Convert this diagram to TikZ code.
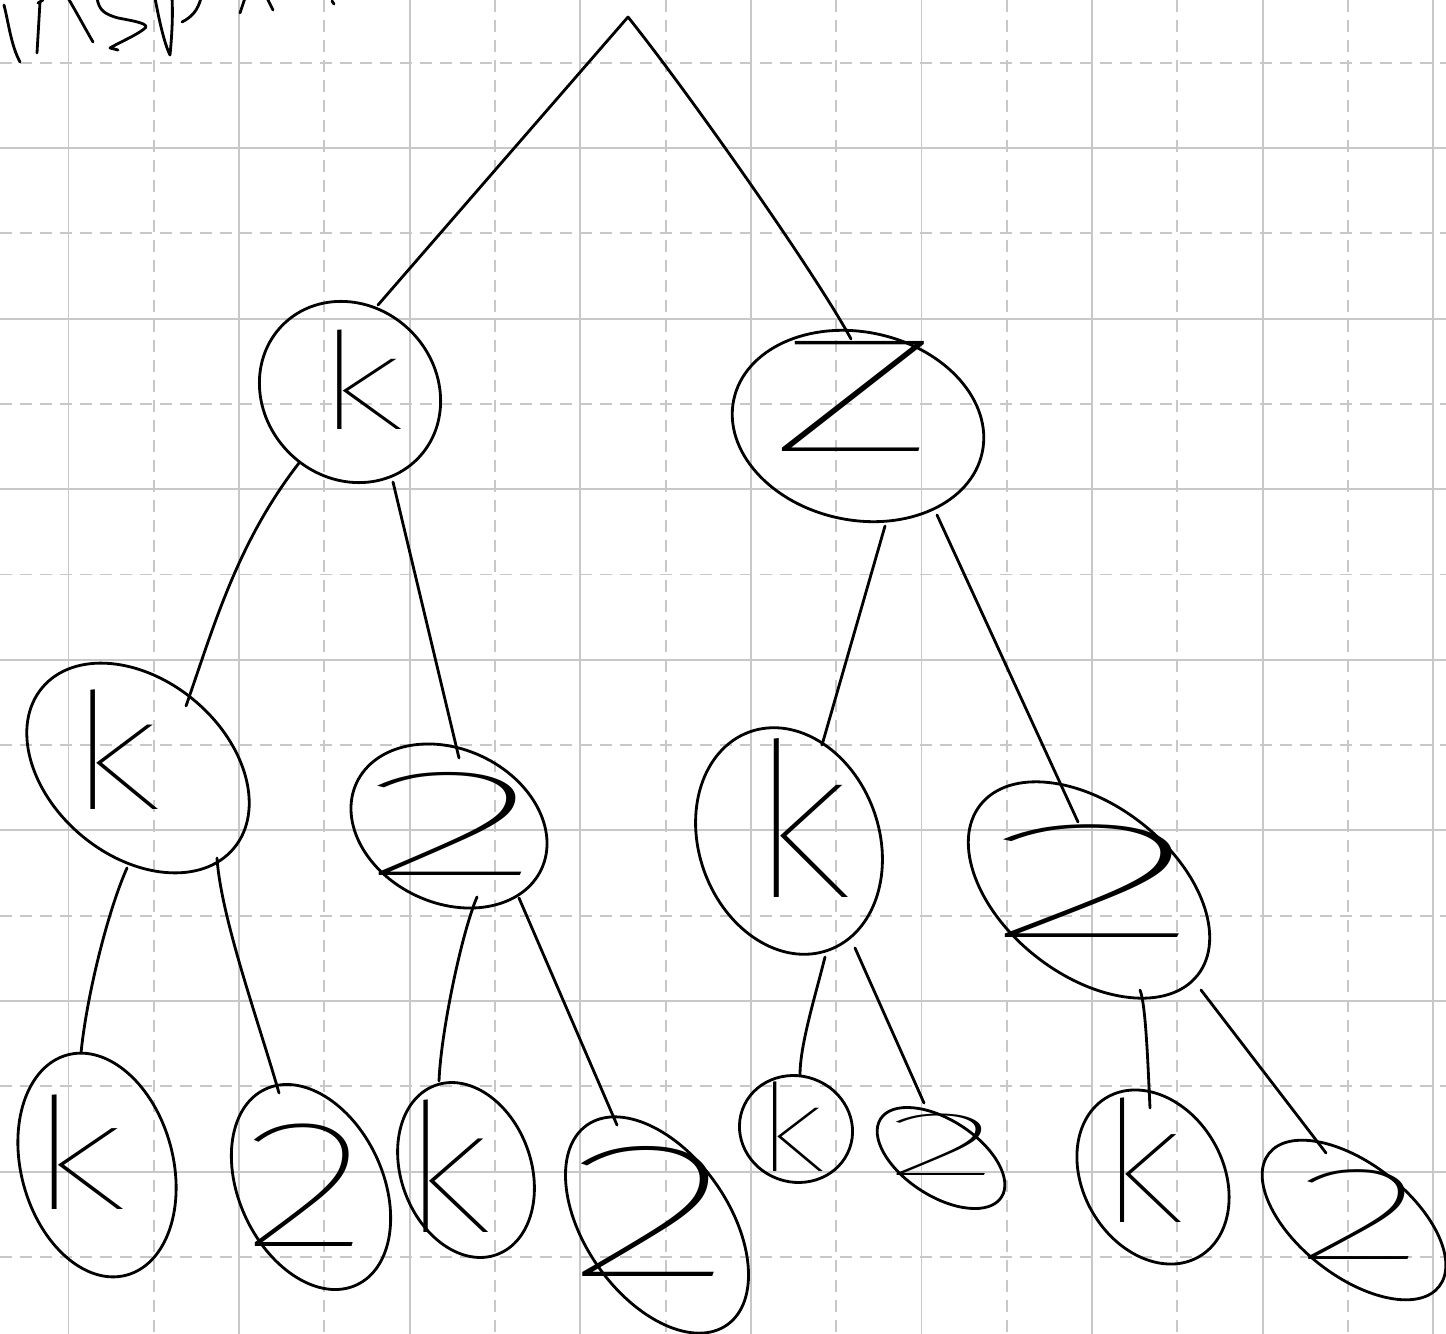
\documentclass[tikz,border=0pt]{standalone}
\usepackage{fontspec}
\usetikzlibrary{shapes.geometric,calc}
\IfFontExistsTF{Fira Sans Thin}{\newfontfamily\hand{Fira Sans Thin}}{%
 \IfFontExistsTF{FiraSans-Thin}{\newfontfamily\hand{FiraSans-Thin}}{%
  \IfFontExistsTF{Fira Sans ExtraLight}{\newfontfamily\hand{Fira Sans ExtraLight}}{%
   \IfFontExistsTF{Lato Hairline}{\newfontfamily\hand{Lato Hairline}}{%
    \IfFontExistsTF{Fira Sans Light}{\newfontfamily\hand{Fira Sans Light}}{%
     \IfFontExistsTF{Lato Light}{\newfontfamily\hand{Lato Light}}{%
      \IfFontExistsTF{DejaVu Sans ExtraLight}{\newfontfamily\hand{DejaVu Sans ExtraLight}}{%
       \newfontfamily\hand{Fira Sans}}}}}}}}
\definecolor{gridgray}{RGB}{200,200,200}
\tikzset{
  ink/.style={line width=1.6pt, line cap=round, line join=round, draw=black},
  gridsolid/.style={line width=1.1pt, draw=gridgray},
  griddash/.style={line width=1.1pt, draw=gridgray, dash pattern=on 0.24cm off 0.16cm},
  ell/.style n args={3}{shape=ellipse, ink, inner sep=0pt,
    minimum width={2*#1*0.02cm}, minimum height={2*#2*0.02cm}, rotate=#3},
  lt/.style 2 args={inner sep=0pt, font=\hand\fontsize{#1}{#1}\selectfont, xscale=#2},
}
\begin{document}
\begin{tikzpicture}[x=0.02cm,y=-0.02cm]
\fill[white] (0,0) rectangle (1446,1334);
\useasboundingbox (0,0) rectangle (1446,1334);
% grid
\begin{scope}
\clip (0,0) rectangle (1446,1334);
\foreach \i in {0,...,8} \draw[gridsolid] ({68.5+170.6*\i},0) -- ++(0,1334);
\foreach \i in {0,...,7} \draw[griddash] ({153.8+170.6*\i},0) -- ++(0,1334);
\foreach \i in {0,...,6} \draw[gridsolid] (0,{148+170.6*\i}) -- ++(1446,0);
\foreach \i in {0,...,7} \draw[griddash] (0,{62.7+170.6*\i}) -- ++(1446,0);
\end{scope}
% cut-off handwriting at top left
\draw[ink] (4,5) .. controls (9,25) and (11,45) .. (20,62);
\draw[ink] (38,3) -- (43,0);
\draw[ink] (40,2) -- (37,53);
\draw[ink] (68,-2) .. controls (78,15) and (86,30) .. (93,42);
\draw[ink] (97,-2) .. controls (99,10) and (104,14) .. (118,18) .. controls (134,21) and (152,24) .. (144,29) .. controls (135,36) and (120,42) .. (110,48) -- (118,50);
\draw[ink] (155,-2) .. controls (160,25) and (165,45) .. (170,55) .. controls (172,35) and (173,15) .. (172,-2);
\draw[ink] (182,22) .. controls (192,17) and (198,10) .. (201,-2);
\draw[ink] (240,13) -- (245,-2);
\draw[ink] (267,-2) -- (273,10);
\draw[ink] (332,1) -- (334,4);
% tree nodes
\coordinate (root) at (628,17);
\node[ell={95}{86}{-45}] (n1) at (350,392) {};
\node[ell={127}{94}{-12}] (n2) at (858,426) {};
\node[ell={125}{88}{-40}] (a) at (138,768) {};
\node[ell={102}{77}{-25}] (b) at (449,826) {};
\node[ell={116}{90}{110}] (c) at (789,841) {};
\node[ell={138}{85}{-38}] (d) at (1089,890) {};
\node[ell={114}{76}{105}] (l1) at (97,1165) {};
\node[ell={108}{72}{115}] (l2) at (311,1187) {};
\node[ell={90}{65}{110}] (l3) at (466,1170) {};
\node[ell={122}{72}{125}] (l4) at (657,1225) {};
\node[ell={57}{53}{-20}] (l5) at (796,1129) {};
\node[ell={72}{38}{-33}] (l6) at (941,1158) {};
\node[ell={92}{70}{120}] (l7) at (1153,1177) {};
\node[ell={108}{56}{-38}] (l8) at (1354,1220) {};
% letters
\node[lt={77}{1.45}] (n1t) at (360,380) {k};
\node[lt={92}{2.1}] (n2t) at (855,396) {Z};
\node[lt={92.6}{1.27}] (at) at (114,750) {k};
\node[lt={87.2}{2.6}] (bt) at (453,824) {2};
\node[lt={123}{1.05}] (ct) at (800,818) {k};
\node[lt={95.4}{2.9}] (dt) at (1095,881) {2};
\node[lt={88.7}{1.4}] (l1t) at (77,1152) {k};
\node[lt={103.7}{1.5}] (l2t) at (306,1185) {2};
\node[lt={102.6}{1.1}] (l3t) at (446,1166) {k};
\node[lt={110}{1.9}] (l4t) at (651,1211) {2};
\node[lt={69.4}{1.25}] (l5t) at (791,1127) {k};
\node[lt={52}{2.7}] (l6t) at (943,1145) {2};
\node[lt={96.4}{1.1}] (l7t) at (1142,1160) {k};
\node[lt={76}{2.1}] (l8t) at (1361,1215) {2};
% connectors
\draw[ink] (root) -- ($(n1.center)+(28,-87)$);
\draw[ink] (root) .. controls +(60,75) and +(-35,-65) .. ($(n2.center)+(-7,-87)$);
\draw[ink] ($(n1.center)+(-51,71)$) .. controls +(-62,80) and +(28,-80) .. ($(a.center)+(48,-62)$);
\draw[ink] ($(n1.center)+(43,90)$) -- ($(b.center)+(10,-68)$);
\draw[ink] ($(n2.center)+(27,100)$) -- ($(c.center)+(33,-96)$);
\draw[ink] ($(n2.center)+(79,89)$) -- ($(d.center)+(-11,-68)$);
\draw[ink] ($(a.center)+(-11,100)$) .. controls +(-18,40) and +(6,-60) .. ($(l1.center)+(-16,-112)$);
\draw[ink] ($(a.center)+(79,90)$) .. controls +(4,60) and +(-20,-70) .. ($(l2.center)+(-32,-94)$);
\draw[ink] ($(b.center)+(28,71)$) .. controls +(-15,35) and +(2,-50) .. ($(l3.center)+(-27,-89)$);
\draw[ink] ($(b.center)+(70,72)$) -- ($(l4.center)+(-40,-100)$);
\draw[ink] ($(c.center)+(36,116)$) .. controls +(-10,40) and +(0,-30) .. ($(l5.center)+(4,-54)$);
\draw[ink] ($(c.center)+(66,107)$) -- ($(l6.center)+(-17,-55)$);
\draw[ink] ($(d.center)+(51,100)$) .. controls +(6,15) and +(-2,-40) .. ($(l7.center)+(-3,-69)$);
\draw[ink] ($(d.center)+(112,100)$) -- ($(l8.center)+(-28,-67)$);
\end{tikzpicture}
\end{document}
